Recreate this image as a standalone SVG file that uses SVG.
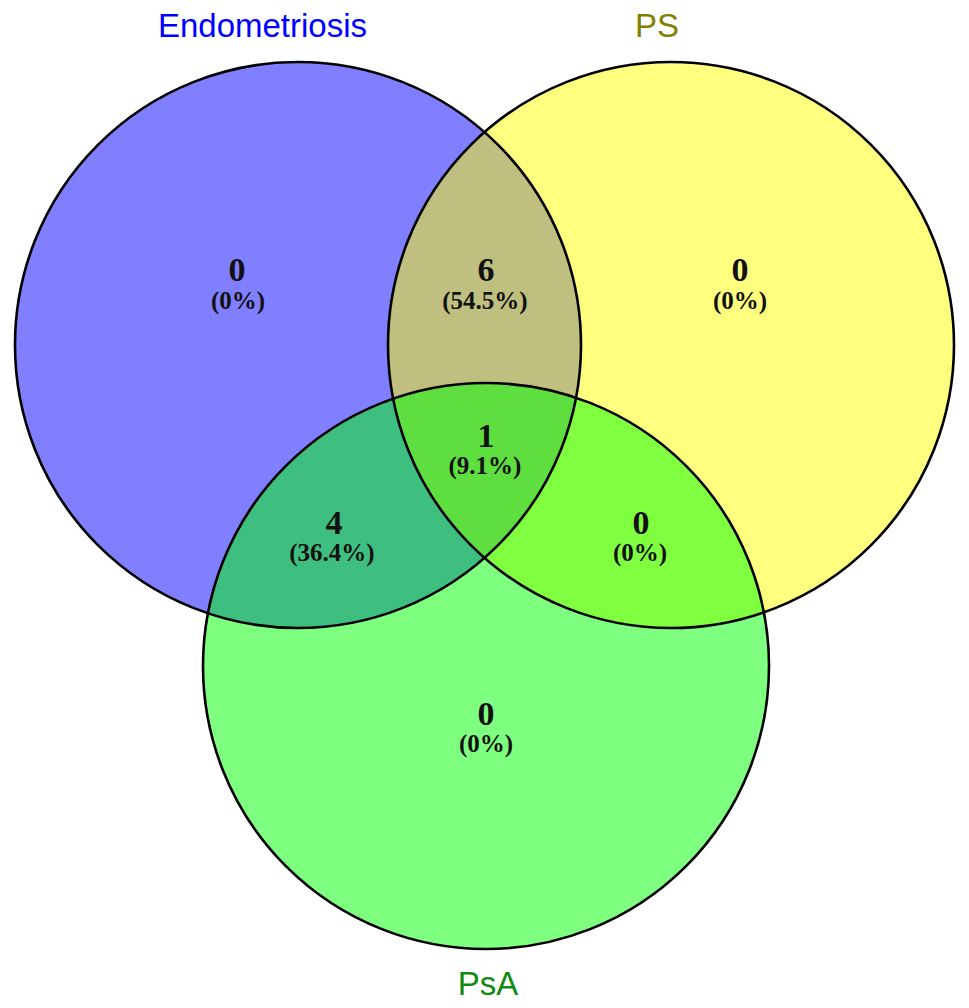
<svg xmlns="http://www.w3.org/2000/svg" width="969" height="1008" viewBox="0 0 969 1008">
<style>
.set{fill-opacity:0.5;stroke:none}
.outline{fill:none;stroke:#000;stroke-width:2.6}
.title{font-family:"Liberation Sans",Arial,sans-serif;font-size:33px;text-anchor:middle}
.num{font-family:"Liberation Serif","Times New Roman",serif;font-weight:bold;font-size:34px;text-anchor:middle;fill:#111}
.pct{font-family:"Liberation Serif","Times New Roman",serif;font-weight:bold;font-size:25px;text-anchor:middle;fill:#111}
</style>
<rect width="969" height="1008" fill="#ffffff"/>
<g id="set-endometriosis">
<circle class="set" cx="298" cy="345" r="283" fill="#0000ff"/>
<text class="title" x="262.5" y="37" fill="#0000ff">Endometriosis</text>
</g>
<g id="set-ps">
<circle class="set" cx="671" cy="345" r="283" fill="#ffff00"/>
<text class="title" x="657" y="37" fill="#808000">PS</text>
</g>
<g id="set-psa">
<circle class="set" cx="486" cy="666" r="283" fill="#00ff00"/>
<text class="title" x="488" y="995" fill="#108a10">PsA</text>
</g>
<g id="outlines">
<circle class="outline" cx="298" cy="345" r="283"/>
<circle class="outline" cx="671" cy="345" r="283"/>
<circle class="outline" cx="486" cy="666" r="283"/>
</g>
<g id="regions">
<g id="region-endometriosis-only"><text class="num" x="237" y="281">0</text><text class="pct" x="238" y="309">(0%)</text></g>
<g id="region-endometriosis-ps"><text class="num" x="486" y="281">6</text><text class="pct" x="485" y="309">(54.5%)</text></g>
<g id="region-ps-only"><text class="num" x="740" y="281">0</text><text class="pct" x="740" y="309">(0%)</text></g>
<g id="region-all"><text class="num" x="486" y="447">1</text><text class="pct" x="485" y="474">(9.1%)</text></g>
<g id="region-endometriosis-psa"><text class="num" x="334" y="534">4</text><text class="pct" x="332" y="561">(36.4%)</text></g>
<g id="region-ps-psa"><text class="num" x="641" y="534">0</text><text class="pct" x="640" y="561">(0%)</text></g>
<g id="region-psa-only"><text class="num" x="486" y="725">0</text><text class="pct" x="486" y="752">(0%)</text></g>
</g>
</svg>
